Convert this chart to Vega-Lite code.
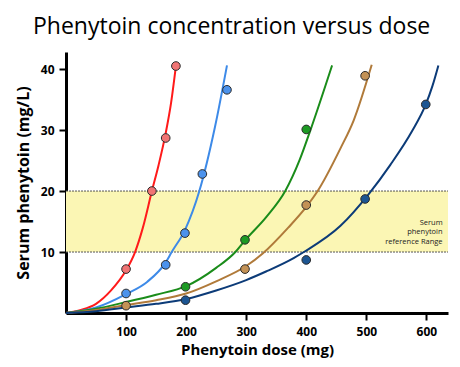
{
  "$schema": "https://vega.github.io/schema/vega-lite/v6.json",
  "width": 382,
  "height": 261,
  "autosize": "none",
  "padding": {"left": 66, "top": 52, "right": 12, "bottom": 54},
  "background": "white",
  "title": {
    "text": "Phenytoin concentration versus dose",
    "font": "Open Sans",
    "fontSize": 23,
    "fontWeight": "normal",
    "color": "black",
    "anchor": "start",
    "frame": "group",
    "dx": -33,
    "offset": 13
  },
  "config": {
    "view": {"stroke": null},
    "axis": {
      "grid": false,
      "domainColor": "black",
      "domainWidth": 3,
      "tickColor": "black",
      "tickWidth": 2,
      "tickSize": 7,
      "labelFont": "Open Sans",
      "labelFontWeight": "bold",
      "labelFontSize": 12,
      "labelColor": "black",
      "titleFont": "Open Sans",
      "titleFontWeight": "bold",
      "titleFontSize": 15,
      "titleColor": "black"
    }
  },
  "datasets": {
    "curves": [
      {"series": "A", "dose": 0, "conc": 0},
      {"series": "A", "dose": 25, "conc": 0.5},
      {"series": "A", "dose": 50, "conc": 1.5},
      {"series": "A", "dose": 75, "conc": 3.7},
      {"series": "A", "dose": 100, "conc": 7.0},
      {"series": "A", "dose": 115, "conc": 10.0},
      {"series": "A", "dose": 128, "conc": 14.0},
      {"series": "A", "dose": 143, "conc": 20.0},
      {"series": "A", "dose": 154, "conc": 24.2},
      {"series": "A", "dose": 166, "conc": 29.5},
      {"series": "A", "dose": 175, "conc": 34.5},
      {"series": "A", "dose": 183, "conc": 40.5},
      {"series": "B", "dose": 0, "conc": 0},
      {"series": "B", "dose": 50, "conc": 0.9},
      {"series": "B", "dose": 100, "conc": 3.1},
      {"series": "B", "dose": 135, "conc": 5.1},
      {"series": "B", "dose": 166, "conc": 8.3},
      {"series": "B", "dose": 176, "conc": 10.0},
      {"series": "B", "dose": 198, "conc": 13.6},
      {"series": "B", "dose": 222, "conc": 20.0},
      {"series": "B", "dose": 248, "conc": 30.5},
      {"series": "B", "dose": 268, "conc": 40.6},
      {"series": "C", "dose": 0, "conc": 0},
      {"series": "C", "dose": 50, "conc": 0.7},
      {"series": "C", "dose": 100, "conc": 1.8},
      {"series": "C", "dose": 150, "conc": 3.0},
      {"series": "C", "dose": 200, "conc": 4.4},
      {"series": "C", "dose": 250, "conc": 7.4},
      {"series": "C", "dose": 282, "conc": 10.0},
      {"series": "C", "dose": 298, "conc": 11.9},
      {"series": "C", "dose": 334, "conc": 15.8},
      {"series": "C", "dose": 365, "conc": 20.0},
      {"series": "C", "dose": 389, "conc": 25.1},
      {"series": "C", "dose": 407, "conc": 30.0},
      {"series": "C", "dose": 443, "conc": 40.6},
      {"series": "D", "dose": 0, "conc": 0},
      {"series": "D", "dose": 50, "conc": 0.5},
      {"series": "D", "dose": 100, "conc": 1.3},
      {"series": "D", "dose": 150, "conc": 2.1},
      {"series": "D", "dose": 200, "conc": 3.2},
      {"series": "D", "dose": 250, "conc": 5.2},
      {"series": "D", "dose": 300, "conc": 7.7},
      {"series": "D", "dose": 328, "conc": 9.8},
      {"series": "D", "dose": 370, "conc": 14.0},
      {"series": "D", "dose": 400, "conc": 17.4},
      {"series": "D", "dose": 419, "conc": 20.0},
      {"series": "D", "dose": 457, "conc": 27.0},
      {"series": "D", "dose": 479, "conc": 31.6},
      {"series": "D", "dose": 509, "conc": 40.7},
      {"series": "E", "dose": 0, "conc": 0},
      {"series": "E", "dose": 50, "conc": 0.3},
      {"series": "E", "dose": 100, "conc": 0.9},
      {"series": "E", "dose": 150, "conc": 1.5},
      {"series": "E", "dose": 200, "conc": 2.3},
      {"series": "E", "dose": 250, "conc": 3.7},
      {"series": "E", "dose": 300, "conc": 5.4},
      {"series": "E", "dose": 333, "conc": 6.8},
      {"series": "E", "dose": 379, "conc": 9.0},
      {"series": "E", "dose": 396, "conc": 10.0},
      {"series": "E", "dose": 457, "conc": 14.3},
      {"series": "E", "dose": 504, "conc": 19.5},
      {"series": "E", "dose": 540, "conc": 24.3},
      {"series": "E", "dose": 576, "conc": 29.8},
      {"series": "E", "dose": 599, "conc": 34.2},
      {"series": "E", "dose": 610, "conc": 37.2},
      {"series": "E", "dose": 620, "conc": 40.6}
    ],
    "points": [
      {"series": "A", "dose": 100, "conc": 7.2},
      {"series": "A", "dose": 143, "conc": 20.0},
      {"series": "A", "dose": 166, "conc": 28.7},
      {"series": "A", "dose": 183, "conc": 40.5},
      {"series": "B", "dose": 100, "conc": 3.2},
      {"series": "B", "dose": 166, "conc": 7.9},
      {"series": "B", "dose": 198, "conc": 13.1},
      {"series": "B", "dose": 227, "conc": 22.8},
      {"series": "B", "dose": 268, "conc": 36.6},
      {"series": "C", "dose": 199, "conc": 4.3},
      {"series": "C", "dose": 298, "conc": 12.0},
      {"series": "C", "dose": 400, "conc": 30.1},
      {"series": "E", "dose": 199, "conc": 2.1},
      {"series": "E", "dose": 400, "conc": 8.7},
      {"series": "E", "dose": 498, "conc": 18.7},
      {"series": "E", "dose": 599, "conc": 34.2},
      {"series": "D", "dose": 100, "conc": 1.2},
      {"series": "D", "dose": 298, "conc": 7.2},
      {"series": "D", "dose": 400, "conc": 17.7},
      {"series": "D", "dose": 498, "conc": 38.9}
    ],
    "band": [{"lo": 10, "hi": 20, "start": 0, "end": 636}],
    "edges": [{"level": 10, "start": 0, "end": 636}, {"level": 20, "start": 0, "end": 636}],
    "notes": [
      {"label": "Serum", "dose": 627, "conc": 14.8},
      {"label": "phenytoin", "dose": 627, "conc": 13.3},
      {"label": "reference Range", "dose": 627, "conc": 11.7}
    ]
  },
  "encoding": {
    "x": {"type": "quantitative", "scale": {"domain": [0, 636], "nice": false}, "axis": {"title": "Phenytoin dose (mg)", "values": [100, 200, 300, 400, 500, 600], "labelPadding": 6, "titlePadding": 5}},
    "y": {"type": "quantitative", "scale": {"domain": [0, 42.8], "nice": false}, "axis": {"title": "Serum phenytoin (mg/L)", "values": [10, 20, 30, 40], "labelPadding": 5, "titleFontSize": 16, "titlePadding": 9}}
  },
  "layer": [
    {
      "data": {"name": "band"},
      "mark": {"type": "rect", "color": "#fbf6b4"},
      "encoding": {
        "x": {"field": "start", "type": "quantitative"},
        "x2": {"field": "end"},
        "y": {"field": "lo", "type": "quantitative"},
        "y2": {"field": "hi"}
      }
    },
    {
      "data": {"name": "edges"},
      "mark": {"type": "rule", "color": "#555555", "strokeWidth": 1, "strokeDash": [2, 1]},
      "encoding": {
        "x": {"field": "start", "type": "quantitative"},
        "x2": {"field": "end"},
        "y": {"field": "level", "type": "quantitative"}
      }
    },
    {
      "data": {"name": "notes"},
      "mark": {"type": "text", "align": "right", "baseline": "middle", "font": "Open Sans", "fontSize": 7.5, "color": "#222222"},
      "encoding": {
        "x": {"field": "dose", "type": "quantitative"},
        "y": {"field": "conc", "type": "quantitative"},
        "text": {"field": "label"}
      }
    },
    {
      "data": {"name": "curves"},
      "mark": {"type": "line", "interpolate": "monotone", "strokeWidth": 2},
      "encoding": {
        "x": {"field": "dose", "type": "quantitative"},
        "y": {"field": "conc", "type": "quantitative"},
        "stroke": {"field": "series", "type": "nominal", "legend": null,
          "scale": {"domain": ["A", "B", "C", "D", "E"], "range": ["#ff1a1a", "#3d8ae8", "#1a8c1a", "#b07a3a", "#0c3b78"]}},
        "order": {"field": "dose", "type": "quantitative"}
      }
    },
    {
      "data": {"name": "points"},
      "mark": {"type": "circle", "size": 75, "opacity": 1, "stroke": "#2a2a2a", "strokeWidth": 1},
      "encoding": {
        "x": {"field": "dose", "type": "quantitative"},
        "y": {"field": "conc", "type": "quantitative"},
        "fill": {"field": "series", "type": "nominal", "legend": null,
          "scale": {"domain": ["A", "B", "C", "D", "E"], "range": ["#f07474", "#4b92ec", "#1d9a24", "#c39256", "#1c5592"]}}
      }
    }
  ],
  "resolve": {"scale": {"fill": "independent", "stroke": "independent"}}
}
